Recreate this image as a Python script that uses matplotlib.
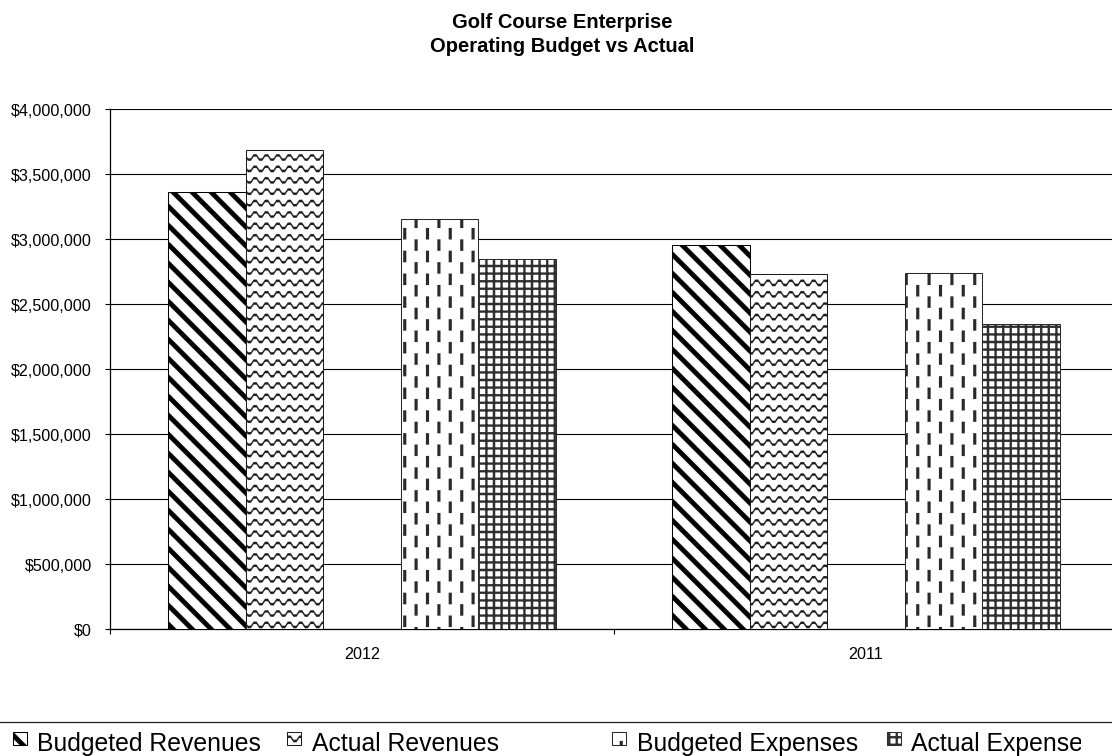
import numpy as np
import matplotlib
matplotlib.use("Agg")
import matplotlib.pyplot as plt
from matplotlib import hatch as mhatch
from matplotlib.path import Path
from matplotlib.patches import Rectangle
from matplotlib.lines import Line2D
from matplotlib.ticker import FuncFormatter, FixedLocator
from matplotlib.transforms import Bbox, TransformedBbox

# ---------------------------------------------------------------- data
years = ["2012", "2011"]
series_names = ["Budgeted Revenues", "Actual Revenues", "",
                "Budgeted Expenses", "Actual Expenses"]
budgeted_revenues = [3363000, 2958000]
actual_revenues = [3685000, 2731000]
budgeted_expenses = [3160000, 2742000]
actual_expenses = [2848000, 2348000]
y_ticks = [0, 500000, 1000000, 1500000, 2000000, 2500000,
           3000000, 3500000, 4000000]

# ---------------------------------------------------------------- canvas
DPI = 114
W_PX, H_PX = 1112, 756
TILE = DPI  # hatch tiles are one inch square

plt.rcParams["font.family"] = ["Liberation Sans", "DejaVu Sans"]
plt.rcParams["hatch.linewidth"] = 0.1


# ---------------------------------------------------------------- fill patterns
class _TileHatch:
    key = ""

    def __init__(self, hatch, density):
        self.polys = self.polygons() if self.key in hatch else []
        self.num_vertices = sum(len(p) + 1 for p in self.polys)

    def polygons(self):
        return []

    def set_vertices_and_codes(self, vertices, codes):
        i = 0
        for p in self.polys:
            k = len(p)
            vertices[i:i + k] = p
            vertices[i + k] = p[0]
            codes[i] = Path.MOVETO
            codes[i + 1:i + k] = Path.LINETO
            codes[i + k] = Path.CLOSEPOLY
            i += k + 1


class DiagonalBands(_TileHatch):
    """Wide downward diagonal stripes."""
    key = "\\"

    def polygons(self):
        n = 6
        w = 6.7 / TILE
        polys = []
        for k in range(-1, 2 * n + 2):
            c = k / n
            a, b = c - w / 2, c + w / 2
            x1, x2 = -0.1, 1.1
            polys.append([(x1, a - x1), (x2, a - x2), (x2, b - x2), (x1, b - x1)])
        return polys


class WaveBands(_TileHatch):
    """Rows of small zig-zag waves."""
    key = "o"

    def polygons(self):
        n = 10
        period = 1.0 / n
        amp = 4.2 / TILE
        t = 2.3 / TILE
        fx = [0.0, 0.25, 0.5, 0.75]
        fy = [0.0, amp, amp, 0.0]
        pts = []
        for k in range(-1, n + 2):
            for a, b in zip(fx, fy):
                pts.append((k * period + a * period, b))
        polys = []
        for r in range(-1, n + 1):
            y0 = r / n
            top = [(x, y0 + y + t / 2) for x, y in pts]
            bot = [(x, y0 + y - t / 2) for x, y in reversed(pts)]
            polys.append(top + bot)
        return polys


class VerticalDashes(_TileHatch):
    """Staggered short vertical dashes."""
    key = "|"

    def polygons(self):
        ncol, nrow = 10, 5
        w = 3.0 / TILE
        length = 11.4 / TILE
        polys = []
        for i in range(ncol):
            xc = (i + 0.5) / ncol
            off = 0.0 if i % 2 == 0 else 0.5 / nrow
            for j in range(-1, nrow + 1):
                y0 = j / nrow + off
                polys.append([(xc - w / 2, y0), (xc + w / 2, y0),
                              (xc + w / 2, y0 + length), (xc - w / 2, y0 + length)])
        return polys


class GridLines(_TileHatch):
    """Small square grid."""
    key = "+"

    def polygons(self):
        n = 15
        w = 2.2 / TILE
        polys = []
        for k in range(n + 1):
            v = k / n
            polys.append([(-0.1, v - w / 2), (1.1, v - w / 2),
                          (1.1, v + w / 2), (-0.1, v + w / 2)])
            polys.append([(v - w / 2, -0.1), (v + w / 2, -0.1),
                          (v + w / 2, 1.1), (v - w / 2, 1.1)])
        return polys


mhatch._hatch_types = [DiagonalBands, WaveBands, VerticalDashes, GridLines]

styles = {
    "Budgeted Revenues": dict(hatch="\\", edgecolor="#000000"),
    "Actual Revenues": dict(hatch="o", edgecolor="#1c1c1c"),
    "Budgeted Expenses": dict(hatch="|", edgecolor="#2a2a2a"),
    "Actual Expenses": dict(hatch="+", edgecolor="#2e2e2e"),
}

# ---------------------------------------------------------------- figure
fig = plt.figure(figsize=(W_PX / DPI + 1e-4, H_PX / DPI + 1e-4), dpi=DPI)
fig.patch.set_facecolor("white")

left_px, right_px = 110, 1118
top_px, bottom_px = 109.5, 629.5
ax = fig.add_axes([left_px / W_PX, 1 - bottom_px / H_PX,
                   (right_px - left_px) / W_PX, (bottom_px - top_px) / H_PX])

values = [budgeted_revenues, actual_revenues, None,
          budgeted_expenses, actual_expenses]
x = np.arange(len(years))
n_slots = len(series_names)
gap_width = 1.5
bar_w = 1.0 / (n_slots + gap_width)

for i, (name, vals) in enumerate(zip(series_names, values)):
    if vals is None:
        continue
    offset = (i - (n_slots - 1) / 2) * bar_w
    st = styles[name]
    ax.bar(x + offset, vals, bar_w, facecolor="white",
           edgecolor=st["edgecolor"], hatch=st["hatch"],
           linewidth=0.65, zorder=3, label=name)

ax.set_xlim(-0.5, len(years) - 0.5)
ax.set_ylim(y_ticks[0], y_ticks[-1])

ax.yaxis.set_major_locator(FixedLocator(y_ticks))
ax.yaxis.set_major_formatter(FuncFormatter(lambda v, p: f"${v:,.0f}"))
ax.yaxis.grid(True, color="#000000", linewidth=0.7, zorder=0)
ax.set_axisbelow(True)

ax.set_xticks(x)
ax.set_xticklabels(years)
ax.set_xticks(np.arange(len(years) + 1) - 0.5, minor=True)
ax.tick_params(axis="x", which="major", length=0, pad=11.2,
               labelsize=10.2, colors="black")
ax.tick_params(axis="x", which="minor", length=3.2, width=0.7,
               direction="out", colors="black")
ax.tick_params(axis="y", which="major", length=3.2, width=0.7,
               direction="out", pad=8.4, labelsize=10.2, colors="black")

for side in ("top", "right"):
    ax.spines[side].set_visible(False)
for side in ("left", "bottom"):
    ax.spines[side].set_color("black")
    ax.spines[side].set_linewidth(0.8)

# ---------------------------------------------------------------- title
title_x = 562.5 / W_PX
fig.text(title_x, 1 - 28.3 / H_PX, "Golf Course Enterprise",
         ha="center", va="baseline", fontsize=12.7, fontweight="bold")
fig.text(title_x, 1 - 51.7 / H_PX, "Operating Budget vs Actual",
         ha="center", va="baseline", fontsize=12.7, fontweight="bold")

# ---------------------------------------------------------------- legend
fig.add_artist(Line2D([0, 1], [1 - 721.7 / H_PX] * 2, transform=fig.transFigure,
                      color="#222222", linewidth=0.8))

# the legend box is narrower than its last entry, so text is cut at its edge
legend_clip = TransformedBbox(Bbox([[0, 0], [1081 / W_PX, 1]]), fig.transFigure)

legend_handles_px = [13.3, 287.3, 611.7, 886.7]
legend_text_px = [37.3, 311.7, 637.3, 910.7]
legend_names = [n for n in series_names if n]
for name, hx, tx in zip(legend_names, legend_handles_px, legend_text_px):
    st = styles[name]
    fig.add_artist(Rectangle((hx / W_PX, 1 - 745.5 / H_PX), 14 / W_PX, 13.5 / H_PX,
                             transform=fig.transFigure, facecolor="white",
                             edgecolor=st["edgecolor"], hatch=st["hatch"],
                             linewidth=0.65))
    t = fig.text(tx / W_PX, 1 - 750.5 / H_PX, name, ha="left", va="baseline",
                 fontsize=15.6, color="black")
    t.set_clip_box(legend_clip)
    t.set_clip_on(True)

fig.savefig("out.png", dpi=DPI, facecolor="white")
